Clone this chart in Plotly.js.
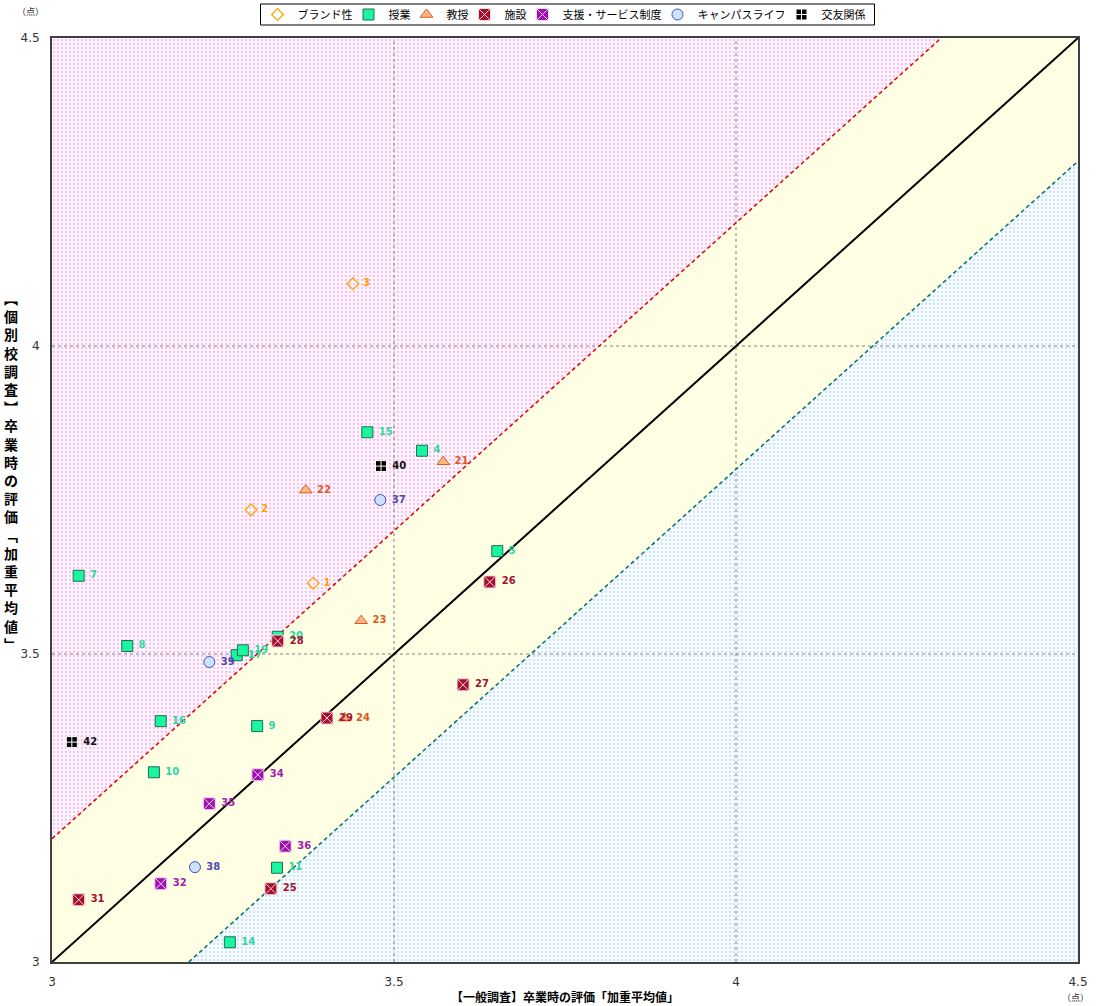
<!DOCTYPE html>
<html>
<head>
<meta charset="utf-8">
<script src="https://cdn.plot.ly/plotly-3.0.1.min.js"></script>
<style>body{margin:0;background:#fff}#chart{width:1101px;height:1006px}</style>
</head>
<body>
<div id="chart"></div>
<script>
// ---- data ----
const categories = ["ブランド性","授業","教授","施設","支援・サービス制度","キャンパスライフ","交友関係"];

const brandX = [3.382, 3.291, 3.440];
const brandY = [3.615, 3.734, 4.101];
const brandLabels = ["1","2","3"];

const classX = [3.541, 3.651, 3.039, 3.110, 3.300, 3.149, 3.329, 3.260, 3.461, 3.159, 3.270, 3.279, 3.330];
const classY = [3.830, 3.667, 3.627, 3.513, 3.383, 3.308, 3.153, 3.032, 3.860, 3.391, 3.498, 3.506, 3.528];
const classLabels = ["4","5","7","8","9","10","11","14","15","16","17","19","20"];

const profX = [3.572, 3.371, 3.452, 3.428];
const profY = [3.812, 3.766, 3.554, 3.396];
const profLabels = ["21","22","23","24"];

const facX = [3.320, 3.640, 3.601, 3.330, 3.402, 3.039];
const facY = [3.119, 3.617, 3.450, 3.521, 3.396, 3.101];
const facLabels = ["25","26","27","28","29","31"];

const supX = [3.159, 3.301, 3.230, 3.341];
const supY = [3.127, 3.304, 3.257, 3.188];
const supLabels = ["32","34","35","36"];

const campX = [3.480, 3.209, 3.230];
const campY = [3.750, 3.154, 3.487];
const campLabels = ["37","38","39"];

const friendX = [3.481, 3.029];
const friendY = [3.805, 3.357];
const friendLabels = ["40","42"];

const tickVals = [3, 3.5, 4, 4.5];
const tickText = ["3", "3.5", "4", "4.5"];
const gridVals = [3.5, 4];
const axisMin = 3, axisMax = 4.5, band = 0.2;

// ---- geometry helpers (layout) ----
const W = 1101, H = 1006;
const M = { l: 52, r: 23, t: 38, b: 44 };
const plotW = W - M.l - M.r, plotH = H - M.t - M.b;
const px2paperX = px => (px - M.l) / plotW;
const py2paperY = py => (H - M.b - py) / plotH;

// ---- background regions ----
const lo = axisMin, hi = axisMax;
const regions = [
  { x: [lo, hi - band, lo], y: [lo + band, hi, hi],
    pat: { shape: ".", bgcolor: "#FFF5FE", fgcolor: "#F4C0EE", size: 4, solidity: 0.26 } },
  { x: [lo, lo, hi - band, hi, hi, lo + band], y: [lo, lo + band, hi, hi, hi - band, lo],
    pat: { shape: "|", bgcolor: "#FFFFF5", fgcolor: "#FFFFC4", size: 4, solidity: 0.35 } },
  { x: [lo + band, hi, hi], y: [lo, hi - band, lo],
    pat: { shape: ".", bgcolor: "#F9FCFF", fgcolor: "#C8E4F9", size: 4, solidity: 0.26 } }
];

const traces = [];
regions.forEach(r => traces.push({
  type: "scatter", mode: "lines", x: r.x, y: r.y, fill: "toself",
  fillcolor: r.pat.bgcolor, fillpattern: r.pat,
  line: { width: 0 }, showlegend: false, hoverinfo: "skip"
}));

// grid lines (above fills)
gridVals.forEach(v => {
  traces.push({ type: "scatter", mode: "lines", x: [v, v], y: [lo, hi],
    line: { color: "#808080", width: 1, dash: "dot" }, showlegend: false, hoverinfo: "skip" });
  traces.push({ type: "scatter", mode: "lines", x: [lo, hi], y: [v, v],
    line: { color: "#808080", width: 1, dash: "dot" }, showlegend: false, hoverinfo: "skip" });
});

// reference lines
traces.push({ type: "scatter", mode: "lines", x: [lo, hi - band], y: [lo + band, hi],
  line: { color: "#E00000", width: 1.5, dash: "4px,3px" }, showlegend: false, hoverinfo: "skip" });
traces.push({ type: "scatter", mode: "lines", x: [lo + band, hi], y: [lo, hi - band],
  line: { color: "#007070", width: 1.5, dash: "4px,3px" }, showlegend: false, hoverinfo: "skip" });
traces.push({ type: "scatter", mode: "lines", x: [lo, hi], y: [lo, hi],
  line: { color: "#000000", width: 2 }, showlegend: false, hoverinfo: "skip" });

const legendIds = ["legend","legend2","legend3","legend4","legend5","legend6","legend7"];

function series(i, xs, ys, labels, marker, textColor) {
  return {
    type: "scatter", mode: "markers+text", name: categories[i], x: xs, y: ys, text: labels,
    texttemplate: "\u00a0%{text}",
    textposition: "middle right", legend: legendIds[i],
    textfont: { family: "DejaVu Sans", size: 10, color: textColor, weight: "bold" },
    marker: marker, cliponaxis: false
  };
}

traces.push(series(0, brandX, brandY, brandLabels,
  { symbol: "diamond-open", size: 9, color: "#FFA500", line: { width: 1.3, color: "#FFA500" } }, "#FFA000"));
traces.push(series(1, classX, classY, classLabels,
  { symbol: "square", size: 11, color: "#1AF5A0", line: { width: 1, color: "#1E6E58" } }, "#2ED6A2"));
traces.push(series(2, profX, profY, profLabels,
  { symbol: "triangle-up", size: 11, color: "#FFB785", line: { width: 1, color: "#E0561E" } }, "#E0561E"));
traces.push(series(3, facX, facY, facLabels,
  { symbol: "square-x", size: 12, color: "#A50F2D", line: { width: 1, color: "#FAD8E0" } }, "#A0142E"));
traces.push(series(4, supX, supY, supLabels,
  { symbol: "square-x", size: 12, color: "#A010B0", line: { width: 1, color: "#F6D8F8" } }, "#A020A8"));
traces.push(series(5, campX, campY, campLabels,
  { symbol: "circle", size: 11, color: "#CCE2FF", line: { width: 1, color: "#4050C0" } }, "#5048B0"));
traces.push(series(6, friendX, friendY, friendLabels,
  { symbol: "square-cross", size: 11, color: "#000000", line: { width: 1, color: "#FFFFFF" } }, "#111111"));

// ---- compact legend: one Plotly legend per entry, laid out in a row ----
const legFont = 11;
const ctx = document.createElement("canvas").getContext("2d");
ctx.font = legFont + 'px "Noto Sans CJK JP"';
const textW = categories.map(c => ctx.measureText(c).width);
const symOff = 20, textOff = 40, gap = 16, padL = 17, padR = 9;
const totalW = padL + textW.reduce((a, w) => a + (textOff - symOff) + w, 0) + gap * (categories.length - 1) + padR;
const centerPx = 567.5;
const boxLeft = centerPx - totalW / 2, boxRight = centerPx + totalW / 2;
const boxTop = 4, boxBottom = 25;

const layout = {
  width: W, height: H,
  margin: { l: M.l, r: M.r, t: M.t, b: M.b, autoexpand: false },
  paper_bgcolor: "#ffffff", plot_bgcolor: "#ffffff",
  font: { family: "Noto Sans CJK JP", color: "#222" },
  showlegend: true,
  xaxis: {
    range: [axisMin, axisMax], tickvals: tickVals, ticktext: tickText,
    showgrid: false, zeroline: false, showline: true, mirror: true,
    linecolor: "#404040", linewidth: 2, ticks: "", ticklabelstandoff: 8,
    tickfont: { family: "DejaVu Sans", size: 12, color: "#333" }, fixedrange: true
  },
  yaxis: {
    range: [axisMin, axisMax], tickvals: tickVals, ticktext: tickText,
    showgrid: false, zeroline: false, showline: true, mirror: true,
    linecolor: "#404040", linewidth: 2, ticks: "", ticklabelstandoff: 8,
    tickfont: { family: "DejaVu Sans", size: 12, color: "#333" }, fixedrange: true
  },
  shapes: [
    { type: "rect", xref: "paper", yref: "paper",
      x0: px2paperX(boxLeft), x1: px2paperX(boxRight),
      y0: py2paperY(boxBottom), y1: py2paperY(boxTop),
      line: { color: "#000", width: 1 }, fillcolor: "#fff", layer: "below" }
  ],
  annotations: [
    { text: "【一般調査】卒業時の評価「加重平均値」", xref: "paper", yref: "paper",
      x: 0.5, y: py2paperY(996), yanchor: "middle", showarrow: false,
      font: { family: "Noto Sans CJK JP", size: 12, color: "#000", weight: "bold" } },
    { text: "︻個別校調査︼卒業時の評価﹁加重平均値﹂".split("").join("<br>"), xref: "paper", yref: "paper",
      x: px2paperX(11), y: py2paperY(471), xanchor: "center", yanchor: "middle", showarrow: false,
      font: { family: "Noto Sans CJK JP", size: 14, color: "#000", weight: "bold" } },
    { text: "（点）", xref: "paper", yref: "paper", x: px2paperX(30), y: py2paperY(12),
      xanchor: "center", yanchor: "middle", showarrow: false,
      font: { family: "Noto Sans CJK JP", size: 9, color: "#333" } },
    { text: "（点）", xref: "paper", yref: "paper", x: px2paperX(1075), y: py2paperY(997),
      xanchor: "center", yanchor: "middle", showarrow: false,
      font: { family: "Noto Sans CJK JP", size: 9, color: "#333" } }
  ]
};

let cursor = boxLeft + padL; // symbol centre of the current entry
legendIds.forEach((id, i) => {
  layout[id] = {
    orientation: "h", xref: "paper", yref: "paper",
    x: px2paperX(cursor - symOff), xanchor: "left",
    y: py2paperY((boxTop + boxBottom) / 2), yanchor: "middle",
    bgcolor: "rgba(0,0,0,0)", borderwidth: 0, itemwidth: 30, itemclick: false,
    font: { family: "Noto Sans CJK JP", size: legFont, color: "#000" }
  };
  cursor += (textOff - symOff) + textW[i] + gap;
});

Plotly.newPlot("chart", traces, layout, { displayModeBar: false, staticPlot: true });
</script>
</body>
</html>
